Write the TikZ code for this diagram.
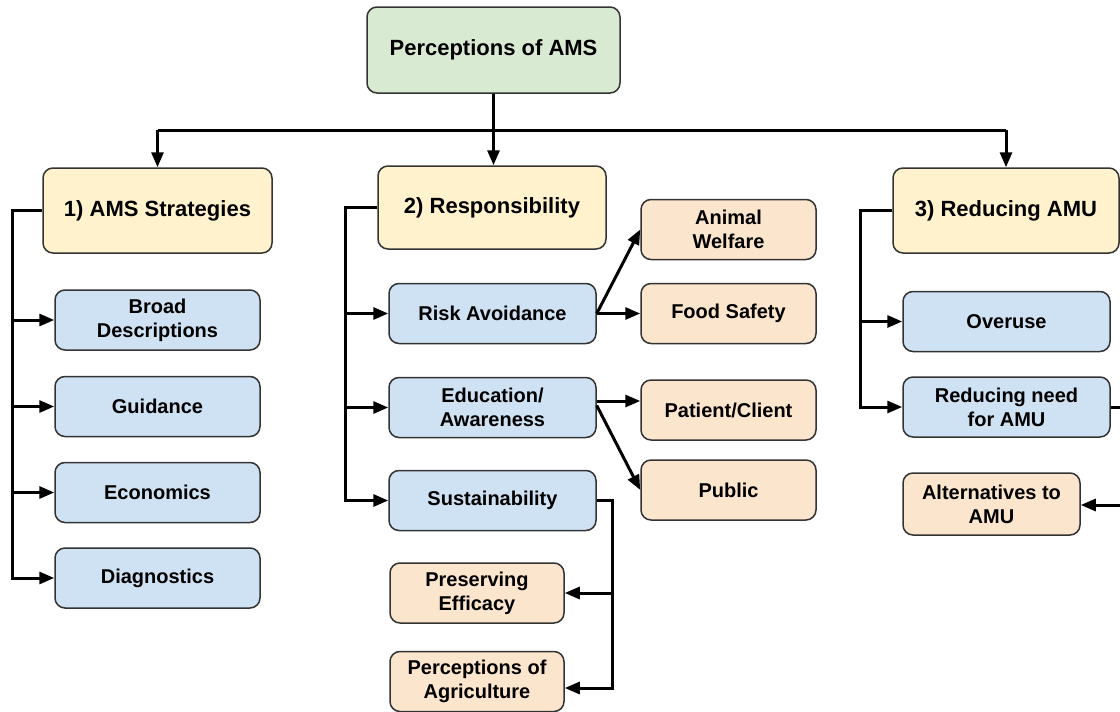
\documentclass[tikz,border=0pt]{standalone}
\usepackage{fontspec}
\setmainfont{Liberation Sans}
\usetikzlibrary{arrows.meta,calc}
\definecolor{cgreen}{HTML}{D9EAD3}
\definecolor{cyellow}{HTML}{FFF2CC}
\definecolor{cblue}{HTML}{CFE2F3}
\definecolor{corange}{HTML}{FCE5CD}
\definecolor{cborder}{HTML}{333333}
\tikzset{
  box/.style={draw=cborder, line width=1.5pt, rounded corners=10pt, align=center, inner sep=0pt,
    font=\fontsize{20}{24}\selectfont\bfseries, text=black},
  headbox/.style={box, fill=cyellow, font=\fontsize{22}{26}\selectfont\bfseries},
  topbox/.style={box, fill=cgreen, font=\fontsize{22}{26}\selectfont\bfseries},
  bluebox/.style={box, fill=cblue, minimum height=60pt},
  orbox/.style={box, fill=corange, minimum height=60pt},
  conn/.style={line width=3pt, black},
  arr/.style={conn, -{Triangle[length=15pt,width=12pt]}},
}
\begin{document}
\begin{tikzpicture}[x=1pt,y=-1pt]
\useasboundingbox (0,0) rectangle (1120,712);
\fill[white] (0,0) rectangle (1120,712);
\clip (0,0) rectangle (1120,712);

% top
\node[topbox, minimum width=253pt, minimum height=86pt] (top) at (493.5,50) {Perceptions of AMS};
% headers
\node[headbox, minimum width=229pt, minimum height=85pt] (s1) at (157.5,210.5) {1) AMS Strategies};
\node[headbox, minimum width=228pt, minimum height=83pt] (s2) at (492,207.5) {2) Responsibility};
\node[headbox, minimum width=226pt, minimum height=85pt] (s3) at (1006,210.5) {3) Reducing AMU};

% column 1
\node[bluebox, minimum width=205pt] (bd) at (157.5,320) {Broad\\Descriptions};
\node[bluebox, minimum width=205pt] (gd) at (157.5,406.5) {Guidance};
\node[bluebox, minimum width=205pt] (ec) at (157.5,492.5) {Economics};
\node[bluebox, minimum width=205pt] (dg) at (157.5,578) {Diagnostics};

% column 2
\node[bluebox, minimum width=207pt] (ra) at (492.5,313.5) {Risk Avoidance};
\node[bluebox, minimum width=207pt] (ed) at (492.5,407.5) {Education/\\Awareness};
\node[bluebox, minimum width=207pt] (su) at (492.5,500.5) {Sustainability};
\node[orbox, minimum width=175pt] (aw) at (728.5,229.5) {Animal\\Welfare};
\node[orbox, minimum width=175pt] (fs) at (728.5,313.5) {Food Safety};
\node[orbox, minimum width=175pt] (pc) at (728.5,410) {Patient/Client};
\node[orbox, minimum width=175pt] (pu) at (728.5,490) {Public};
\node[orbox, minimum width=174pt] (pe) at (477,593) {Preserving\\Efficacy};
\node[orbox, minimum width=174pt, minimum height=60pt] (pa) at (477,681.5) {Perceptions of\\Agriculture};

% column 3
\node[bluebox, minimum width=207pt] (ov) at (1006.5,321.5) {Overuse};
\node[bluebox, minimum width=207pt] (rn) at (1006.5,407) {Reducing need\\for AMU};
\node[orbox, minimum width=177pt, minimum height=62pt] (alt) at (991.5,504) {Alternatives to\\AMU};

% top connectors
\coordinate (hL) at (157.5,130);
\coordinate (hR) at (1006,130);
\draw[conn] (hL) -- (hR);
\draw[arr] (top.south) -- (top.south |- s2.north);
\draw[arr] (hL) -- (s1.north);
\draw[arr] (hR) -- (s3.north);

% column 1 trunk
\coordinate (t1) at (12,210.5);
\draw[arr] (s1.west) -- (t1) |- (dg.west);
\draw[arr] (t1 |- bd.west) -- (bd.west);
\draw[arr] (t1 |- gd.west) -- (gd.west);
\draw[arr] (t1 |- ec.west) -- (ec.west);

% column 2 trunk
\coordinate (t2) at (345,207.5);
\draw[arr] (s2.west) -- (t2) |- (su.west);
\draw[arr] (t2 |- ra.west) -- (ra.west);
\draw[arr] (t2 |- ed.west) -- (ed.west);

% column 2 branches
\draw[arr] (ra.east) -- (aw.west);
\draw[arr] (ra.east) -- (fs.west);
\draw[arr] ([yshift=6.5pt]ed.east) -- ([yshift=9pt]pc.west);
\draw[arr] ([yshift=2pt]ed.east) -- (pu.west);

% sustainability branches
\coordinate (t4) at (612,688);
\draw[arr] (su.east) -| (t4) -- (pa.east |- t4);
\draw[arr] (t4 |- pe.east) -- (pe.east);

% column 3 trunk
\coordinate (t3) at (860,210.5);
\draw[arr] (s3.west) -- (t3) |- (rn.west);
\draw[arr] (t3 |- ov.west) -- (ov.west);
\coordinate (t5) at (1126,505);
\draw[arr] (rn.east) -| (t5) -- (alt.east |- t5);
\end{tikzpicture}
\end{document}
